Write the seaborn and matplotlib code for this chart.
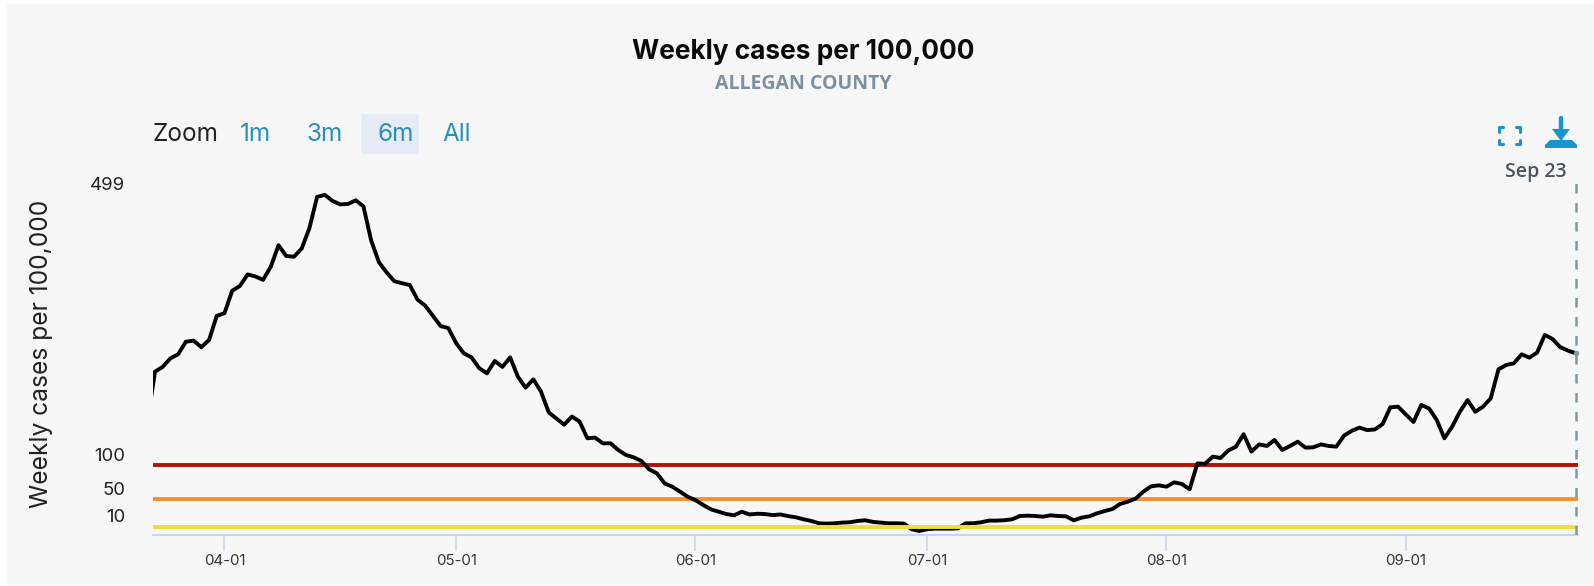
import numpy as np
import pandas as pd
import seaborn as sns
import matplotlib
matplotlib.use('Agg')
import matplotlib.pyplot as plt
from matplotlib.patches import Rectangle, FancyBboxPatch, Polygon
from matplotlib.lines import Line2D
from matplotlib.transforms import ScaledTranslation

W, H = 1594, 586

# daily weekly-cases values (Mar 22 to Sep 23)
weekly_cases = [
    162, 238, 245, 257.6, 263.5, 282, 283.6, 274, 284.5, 320,
    324, 357, 364, 381, 378, 373, 392.4, 424, 408, 407,
    419, 449, 495, 498, 489, 484, 484.6, 490, 481, 431,
    399, 384, 371, 368, 365.4, 344, 335, 320, 305, 302,
    280, 265, 259, 243, 235.5, 253.7, 245, 259, 230.6, 214.5,
    226.7, 208.6, 178, 169, 160, 172, 164.5, 140, 141, 132.6,
    132.6, 122.8, 115.4, 112, 106.6, 94.3, 88.5, 73.7, 68.8, 61.5,
    54, 49, 41.9, 35.5, 32, 28.6, 26.7, 32, 28, 29,
    28.6, 27, 28, 25.5, 23.8, 20.9, 18.4, 15, 14.5, 15,
    16, 16.5, 18.4, 19.4, 17, 16, 15, 15, 14.5, 6.2,
    3.7, 6.2, 7.1, 7.1, 7.1, 7.6, 15, 15, 16.5, 18.9,
    18.9, 19.5, 20.8, 25.7, 26.2, 25.7, 24.7, 26.7, 25.7, 25.2,
    19.3, 23.3, 25.2, 29.6, 33, 36, 43.4, 46.8, 51.2, 61.5,
    69.3, 70.8, 68.8, 75.2, 72.8, 64.9, 103, 102.5, 113, 111,
    122, 127.7, 146, 120.4, 131, 128.7, 137.5, 122.8, 128.7, 135,
    126.3, 126.7, 131, 128.7, 127.7, 144, 151, 155.7, 152, 153,
    161, 185.6, 186.5, 175, 164, 189, 184, 167, 140, 157,
    179, 196.3, 179, 186.5, 198.8, 241.4, 247.8, 250.3, 263.5, 258.6,
    266, 292, 286, 274, 269, 265,
]
start_date = '2021-03-22'
month_ticks = ['2021-04-01', '2021-05-01', '2021-06-01', '2021-07-01', '2021-08-01', '2021-09-01']
month_labels = ['04-01', '05-01', '06-01', '07-01', '08-01', '09-01']
y_ticks = [10, 50, 100, 499]
thresholds = [100, 50, 10]
threshold_colors = ['#b21206', '#fd8c2a', '#f0dc3a']
zoom_buttons = ['1m', '3m', '6m', 'All']

sns.set_theme(style='white')
plt.rcParams['font.family'] = ['Inter', 'DejaVu Sans']

df = pd.DataFrame({'date': pd.date_range(start_date, periods=len(weekly_cases), freq='D'),
                   'cases': weekly_cases})
last_day = df['date'].iloc[-1]


def fx(px):
    return px / W


def fy(py):
    return 1 - py / H


fig = plt.figure(figsize=(W / 100, H / 100), dpi=100, facecolor='white')
fig.add_artist(Rectangle((fx(7), fy(585)), 1, fy(4) - fy(585), transform=fig.transFigure,
                         facecolor='#f7f7f7', edgecolor='none', zorder=-5))

# plot area 152.5..1578 x 178..534.7 in pixels
ax = fig.add_axes([fx(152.5), fy(534.7), fx(1578 - 152.5), (534.7 - 178) / H])
ax.patch.set_alpha(0)

sns.lineplot(data=df, x='date', y='cases', color='black', linewidth=2.8, ax=ax, zorder=3)
for val, col in zip(thresholds, threshold_colors):
    ax.axhline(val, color=col, linewidth=2.8, zorder=4 if val == 10 else 2)
ax.axvline(last_day, color='#7f98a6', linewidth=1.8, linestyle=(0, (3.8, 3.8)), zorder=5)
ax.plot([last_day], [weekly_cases[-1]], marker='o', markersize=4, color='#7f98a6',
        markeredgewidth=0, zorder=6)

day = pd.Timedelta(days=1)
ax.set_xlim(pd.Timestamp('2021-03-23') - day * 0.32, last_day + day * 0.3)
ax.set_ylim(-1.8, 522.8)

sns.despine(ax=ax, left=True, top=True, right=True)
ax.spines['bottom'].set_color('#ccd6eb')
ax.spines['bottom'].set_linewidth(1.5)
ax.set_xlabel('')
ax.set_ylabel('')

ax.set_xticks(pd.to_datetime(month_ticks))
ax.set_xticklabels(month_labels)
ax.tick_params(axis='x', bottom=True, length=11.5, width=1.2, color='#ccd6eb', pad=2.5,
               labelsize=10.8, labelcolor='#333333')

ax.set_yticks(y_ticks)
ax.set_yticklabels([str(v) for v in y_ticks])
ax.tick_params(axis='y', left=False, length=0, pad=19.5, labelsize=13.4, labelcolor='#222222')
shift = ScaledTranslation(0, 10.7 / 100, fig.dpi_scale_trans)
for lab in ax.get_yticklabels():
    lab.set_transform(lab.get_transform() + shift)

fig.text(fx(803), fy(52), 'Weekly cases per 100,000', ha='center', va='center',
         fontsize=18.9, fontweight='bold', color='#0a0a0a')
fig.text(fx(803), fy(84), 'ALLEGAN COUNTY', ha='center', va='center', fontsize=14,
         fontweight='bold', color='#7d8fa0', family=['Open Sans', 'DejaVu Sans'])
fig.text(fx(42), fy(354), 'Weekly cases per 100,000', rotation=90, ha='center', va='center',
         fontsize=17.7, color='#222222')

# zoom row
fig.add_artist(FancyBboxPatch((fx(364), fy(151)), fx(52), fy(117) - fy(151),
                              boxstyle='round,pad=0.0018', transform=fig.transFigure,
                              facecolor='#e6ebf5', edgecolor='none', mutation_aspect=W / H))
fig.text(fx(152.5), fy(134.5), 'Zoom', ha='left', va='center', fontsize=17.5, color='#222222')
for lab, xpos in zip(zoom_buttons, [255, 325, 395.5, 456.5]):
    fig.text(fx(xpos), fy(134.5), lab, ha='center', va='center', fontsize=17.5, color='#2a8fbd')

# fullscreen and download icons
icon = '#1a94cf'
for cx, sx in [(1498.5, 1), (1520, -1)]:
    for cy, sy in [(127, 1), (144.5, -1)]:
        fig.add_artist(Line2D([fx(cx), fx(cx), fx(cx + 4.5 * sx)],
                              [fy(cy + 4.5 * sy), fy(cy), fy(cy)],
                              color=icon, linewidth=2.2, transform=fig.transFigure))
fig.add_artist(Line2D([fx(1561), fx(1561)], [fy(118), fy(130)], color=icon, linewidth=3.2,
                      transform=fig.transFigure))
fig.add_artist(Polygon([[fx(1552), fy(129)], [fx(1570), fy(129)], [fx(1561), fy(141)]],
                       closed=True, facecolor=icon, edgecolor='none', transform=fig.transFigure))
fig.add_artist(Polygon([[fx(1545), fy(148)], [fx(1577), fy(148)], [fx(1577), fy(145)],
                        [fx(1572), fy(140)], [fx(1550), fy(140)], [fx(1545), fy(145)]],
                       closed=True, facecolor=icon, edgecolor='none', transform=fig.transFigure))

fig.text(fx(1536), fy(172), 'Sep 23', ha='center', va='center', fontsize=14,
         fontweight='semibold', color='#4a5560', family=['Open Sans', 'DejaVu Sans'])

fig.savefig('out.png', dpi=100, facecolor=fig.get_facecolor())
